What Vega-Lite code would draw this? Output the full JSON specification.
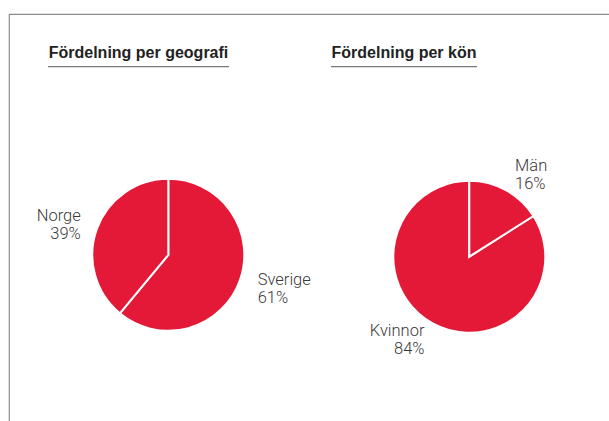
{
  "$schema": "https://vega.github.io/schema/vega-lite/v6.json",
  "width": 600,
  "height": 407,
  "padding": {"left": 9, "top": 14, "right": 0, "bottom": 0},
  "autosize": {"type": "none"},
  "background": "white",
  "config": {
    "view": {"stroke": "#8c8c8c", "strokeWidth": 1.2, "strokeDash": [600, 1007, 407]},
    "text": {"font": "Roboto", "fontWeight": 300, "fontSize": 16.5, "color": "#3a3a3a"}
  },
  "datasets": {
    "slices": [
      {"chart": "geografi", "name": "Sverige", "value": 61},
      {"chart": "geografi", "name": "Norge", "value": 39},
      {"chart": "kön", "name": "Kvinnor", "value": 84},
      {"chart": "kön", "name": "Män", "value": 16}
    ],
    "titles": [
      {"chart": "geografi", "title": "Fördelning per geografi"},
      {"chart": "kön", "title": "Fördelning per kön"}
    ]
  },
  "layer": [
    {
      "data": {"name": "slices"},
      "transform": [
        {"stack": "value", "groupby": ["chart"], "offset": "normalize", "sort": [{"field": "name", "order": "descending"}], "as": ["v0", "v1"]},
        {"calculate": "(datum.v0 + datum.v1) / 2", "as": "mid"},
        {"calculate": "datum.value + '%'", "as": "pct"}
      ],
      "encoding": {
        "x": {"field": "chart", "type": "nominal", "scale": {"type": "point", "domain": ["geografi", "kön"], "range": [159.3, 460.3], "padding": 0}, "axis": null},
        "y": {"field": "chart", "type": "nominal", "scale": {"type": "point", "domain": ["geografi", "kön"], "range": [240.8, 242.7], "padding": 0}, "axis": null}
      },
      "layer": [
        {
          "mark": {"type": "arc", "outerRadius": 76, "fill": "#E31937", "stroke": "white", "strokeWidth": 2},
          "encoding": {
            "theta": {"field": "v0", "type": "quantitative", "scale": {"domain": [0, 1]}},
            "theta2": {"field": "v1"}
          }
        },
        {
          "transform": [{"filter": "datum.mid < 0.5"}],
          "mark": {"type": "text", "radius": 95, "align": "left", "baseline": "alphabetic", "dy": -2},
          "encoding": {
            "theta": {"field": "mid", "type": "quantitative", "scale": {"domain": [0, 1]}},
            "text": {"field": "name"}
          }
        },
        {
          "transform": [{"filter": "datum.mid < 0.5"}],
          "mark": {"type": "text", "radius": 95, "align": "left", "baseline": "alphabetic", "dy": 16},
          "encoding": {
            "theta": {"field": "mid", "type": "quantitative", "scale": {"domain": [0, 1]}},
            "text": {"field": "pct"}
          }
        },
        {
          "transform": [{"filter": "datum.mid >= 0.5"}],
          "mark": {"type": "text", "radius": 93, "align": "right", "baseline": "alphabetic", "dy": -2},
          "encoding": {
            "theta": {"field": "mid", "type": "quantitative", "scale": {"domain": [0, 1]}},
            "text": {"field": "name"}
          }
        },
        {
          "transform": [{"filter": "datum.mid >= 0.5"}],
          "mark": {"type": "text", "radius": 93, "align": "right", "baseline": "alphabetic", "dy": 16},
          "encoding": {
            "theta": {"field": "mid", "type": "quantitative", "scale": {"domain": [0, 1]}},
            "text": {"field": "pct"}
          }
        }
      ]
    },
    {
      "data": {"name": "titles"},
      "encoding": {
        "x": {"field": "chart", "type": "nominal", "scale": {"type": "point", "domain": ["geografi", "kön"], "range": [129.5, 395], "padding": 0}, "axis": null},
        "y": {"field": "chart", "type": "nominal", "scale": {"type": "point", "domain": ["geografi", "kön"], "range": [52.7, 52.7], "padding": 0}, "axis": null}
      },
      "layer": [
        {
          "mark": {"type": "text", "font": "Liberation Sans", "fontWeight": "bold", "fontSize": 16, "color": "#222222", "align": "center", "baseline": "alphabetic", "dy": -9},
          "encoding": {"text": {"field": "title"}}
        },
        {
          "transform": [{"filter": "datum.chart == 'geografi'"}],
          "mark": {"type": "tick", "orient": "horizontal", "size": 181, "thickness": 1.3, "color": "#777777", "opacity": 1}
        },
        {
          "transform": [{"filter": "datum.chart == 'kön'"}],
          "mark": {"type": "tick", "orient": "horizontal", "size": 146, "thickness": 1.3, "color": "#777777", "opacity": 1}
        }
      ]
    }
  ],
  "resolve": {"scale": {"x": "independent", "y": "independent"}}
}
